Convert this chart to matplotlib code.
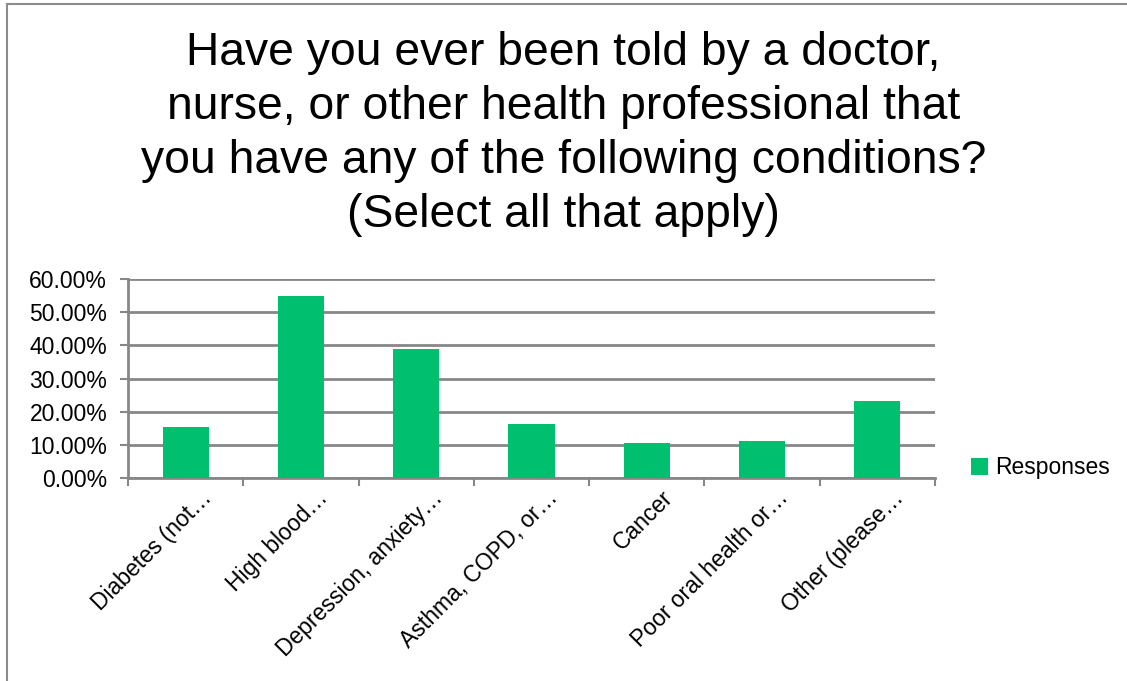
import matplotlib.pyplot as plt
from matplotlib.lines import Line2D
from matplotlib.ticker import PercentFormatter
from matplotlib.transforms import ScaledTranslation
import numpy as np

categories = ["Diabetes (not…", "High blood…", "Depression, anxiety…", "Asthma, COPD, or…",
              "Cancer", "Poor oral health or…", "Other (please…"]
responses = [15.4, 55.0, 38.8, 16.2, 10.5, 11.3, 23.4]
y_ticks = [0, 10, 20, 30, 40, 50, 60]

title = ("Have you ever been told by a doctor,\nnurse, or other health professional that\n"
         "you have any of the following conditions?\n(Select all that apply)")

plt.rcParams['font.family'] = ['Liberation Sans', 'DejaVu Sans']

fig = plt.figure(figsize=(11.27, 6.81), dpi=100)
ax = fig.add_axes([0.1136, 0.298, 0.716, 0.292])

x = np.arange(len(categories))
ax.bar(x, responses, width=0.4, color="#00BF6F", label="Responses", zorder=3)

ax.set_xlim(-0.5, len(categories) - 0.5)
ax.set_ylim(0, 60)
ax.set_yticks(y_ticks)
ax.yaxis.set_major_formatter(PercentFormatter(decimals=2))
ax.grid(axis="y", color="#878787", linewidth=2, zorder=0)

# category labels, ticks on boundaries
ax.set_xticks(x)
ax.set_xticklabels(categories, rotation=45, ha="right", rotation_mode="anchor", fontsize=16.5)
ax.tick_params(axis="x", which="major", length=0, pad=6)
shift = ScaledTranslation(0.15, 0, fig.dpi_scale_trans)
for lbl in ax.get_xticklabels():
    lbl.set_transform(lbl.get_transform() + shift)
ax.set_xticks(np.arange(-0.5, len(categories)), minor=True)
ax.tick_params(axis="x", which="minor", length=6, width=1.5, color="#878787")
ax.tick_params(axis="y", length=6, width=1.5, color="#878787", labelsize=16.5, direction="out", pad=9)

for side in ["top", "right"]:
    ax.spines[side].set_visible(False)
for side in ["left", "bottom"]:
    ax.spines[side].set_color("#878787")
    ax.spines[side].set_linewidth(2)

fig.text(0.5, 0.955, title, ha="center", va="top", fontsize=33.3, linespacing=1.3)

fig.legend(loc="center left", bbox_to_anchor=(0.843, 0.313), frameon=False, fontsize=16.5,
           handlelength=0.75, handleheight=0.75, handletextpad=0.3)

# frame edges: top and left only
fig.add_artist(Line2D([0.0065, 1.0], [0.9935, 0.9935], transform=fig.transFigure,
                      color="#8c8c8c", linewidth=1.5))
fig.add_artist(Line2D([0.0065, 0.0065], [0.0, 0.9935], transform=fig.transFigure,
                      color="#8c8c8c", linewidth=1.5))

fig.savefig("out.png", dpi=100)
